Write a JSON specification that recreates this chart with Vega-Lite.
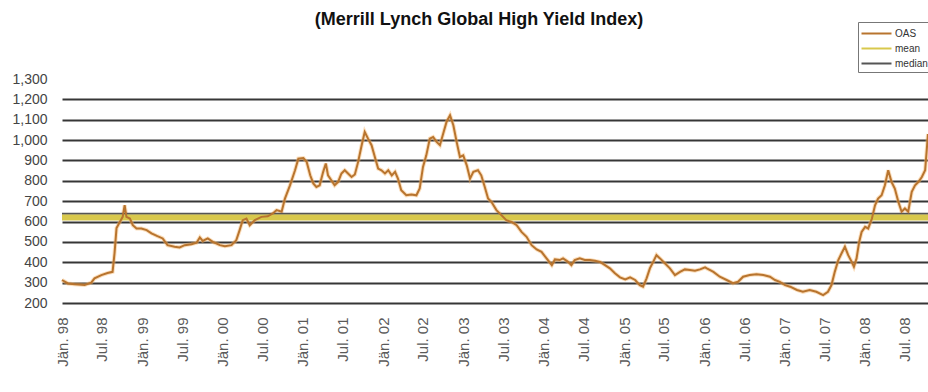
{
  "$schema": "https://vega.github.io/schema/vega-lite/v6.json",
  "width": 866,
  "height": 224,
  "autosize": {"type": "none"},
  "padding": {"left": 62, "top": 79, "right": 0, "bottom": 89},
  "background": "white",
  "config": {
    "view": {"stroke": null},
    "font": "Liberation Sans",
    "axisY": {
      "title": null, "domain": false, "ticks": false, "grid": true,
      "gridColor": "#363636", "gridWidth": 2,
      "labelPadding": 15, "labelFontSize": 14, "labelColor": "#444444",
      "labelFont": "Liberation Sans", "labelFlush": false, "labelOverlap": false
    }
  },
  "title": {
    "text": "(Merrill Lynch Global High Yield Index)",
    "font": "Liberation Sans",
    "fontSize": 18,
    "fontWeight": "bold",
    "color": "#111111",
    "anchor": "middle",
    "dx": -16,
    "offset": -7
  },
  "datasets": {
    "stats": [
      {"stat": "median", "value": 638},
      {"stat": "mean", "value": 620}
    ],
    "oas": [
      {"date": "1998-01-01", "oas": 313}, {"date": "1998-01-28", "oas": 296}, {"date": "1998-02-27", "oas": 292},
      {"date": "1998-04-14", "oas": 288}, {"date": "1998-05-14", "oas": 300}, {"date": "1998-05-29", "oas": 321},
      {"date": "1998-06-29", "oas": 337}, {"date": "1998-07-27", "oas": 347}, {"date": "1998-08-19", "oas": 353},
      {"date": "1998-08-28", "oas": 445}, {"date": "1998-09-06", "oas": 568}, {"date": "1998-09-21", "oas": 598},
      {"date": "1998-10-04", "oas": 623}, {"date": "1998-10-13", "oas": 680}, {"date": "1998-10-21", "oas": 623},
      {"date": "1998-11-06", "oas": 615}, {"date": "1998-11-19", "oas": 582}, {"date": "1998-12-06", "oas": 566},
      {"date": "1998-12-28", "oas": 566}, {"date": "1999-01-21", "oas": 558}, {"date": "1999-02-12", "oas": 542},
      {"date": "1999-03-11", "oas": 528}, {"date": "1999-04-04", "oas": 517}, {"date": "1999-04-26", "oas": 484},
      {"date": "1999-05-28", "oas": 476}, {"date": "1999-06-20", "oas": 473}, {"date": "1999-07-13", "oas": 484},
      {"date": "1999-08-13", "oas": 489}, {"date": "1999-09-05", "oas": 496}, {"date": "1999-09-20", "oas": 522},
      {"date": "1999-10-03", "oas": 505}, {"date": "1999-10-26", "oas": 517}, {"date": "1999-11-18", "oas": 500},
      {"date": "1999-12-20", "oas": 484}, {"date": "2000-01-12", "oas": 479}, {"date": "2000-02-11", "oas": 484},
      {"date": "2000-03-04", "oas": 509}, {"date": "2000-03-19", "oas": 558}, {"date": "2000-04-02", "oas": 607},
      {"date": "2000-04-19", "oas": 615}, {"date": "2000-05-04", "oas": 582}, {"date": "2000-05-27", "oas": 607},
      {"date": "2000-06-26", "oas": 623}, {"date": "2000-07-25", "oas": 626}, {"date": "2000-08-17", "oas": 640},
      {"date": "2000-09-03", "oas": 656}, {"date": "2000-09-26", "oas": 648}, {"date": "2000-10-11", "oas": 713},
      {"date": "2000-11-03", "oas": 778}, {"date": "2000-11-26", "oas": 852}, {"date": "2000-12-11", "oas": 909},
      {"date": "2001-01-03", "oas": 912}, {"date": "2001-01-18", "oas": 893}, {"date": "2001-02-03", "oas": 827},
      {"date": "2001-02-17", "oas": 787}, {"date": "2001-03-03", "oas": 770}, {"date": "2001-03-18", "oas": 778},
      {"date": "2001-04-03", "oas": 844}, {"date": "2001-04-15", "oas": 885}, {"date": "2001-04-25", "oas": 827},
      {"date": "2001-05-10", "oas": 803}, {"date": "2001-05-25", "oas": 778}, {"date": "2001-06-10", "oas": 795},
      {"date": "2001-06-25", "oas": 836}, {"date": "2001-07-10", "oas": 852}, {"date": "2001-07-25", "oas": 836},
      {"date": "2001-08-10", "oas": 819}, {"date": "2001-08-25", "oas": 831}, {"date": "2001-09-09", "oas": 893},
      {"date": "2001-09-25", "oas": 975}, {"date": "2001-10-09", "oas": 1040}, {"date": "2001-10-24", "oas": 1007},
      {"date": "2001-11-09", "oas": 975}, {"date": "2001-11-24", "oas": 917}, {"date": "2001-12-09", "oas": 860},
      {"date": "2001-12-24", "oas": 852}, {"date": "2002-01-09", "oas": 836}, {"date": "2002-01-24", "oas": 852},
      {"date": "2002-02-09", "oas": 827}, {"date": "2002-02-24", "oas": 844}, {"date": "2002-03-09", "oas": 811},
      {"date": "2002-03-24", "oas": 754}, {"date": "2002-04-16", "oas": 729}, {"date": "2002-05-09", "oas": 733},
      {"date": "2002-06-01", "oas": 729}, {"date": "2002-06-16", "oas": 762}, {"date": "2002-07-01", "oas": 868},
      {"date": "2002-07-16", "oas": 925}, {"date": "2002-08-01", "oas": 1007}, {"date": "2002-08-16", "oas": 1015},
      {"date": "2002-09-01", "oas": 991}, {"date": "2002-09-16", "oas": 975}, {"date": "2002-10-01", "oas": 1032},
      {"date": "2002-10-16", "oas": 1089}, {"date": "2002-11-01", "oas": 1122}, {"date": "2002-11-16", "oas": 1073},
      {"date": "2002-12-01", "oas": 991}, {"date": "2002-12-16", "oas": 917}, {"date": "2002-12-31", "oas": 925},
      {"date": "2003-01-16", "oas": 876}, {"date": "2003-01-31", "oas": 811}, {"date": "2003-02-15", "oas": 844},
      {"date": "2003-03-08", "oas": 852}, {"date": "2003-03-23", "oas": 827}, {"date": "2003-04-08", "oas": 770},
      {"date": "2003-04-23", "oas": 713}, {"date": "2003-05-08", "oas": 697}, {"date": "2003-05-31", "oas": 656},
      {"date": "2003-06-23", "oas": 631}, {"date": "2003-07-15", "oas": 607}, {"date": "2003-08-08", "oas": 598},
      {"date": "2003-08-31", "oas": 582}, {"date": "2003-09-22", "oas": 549}, {"date": "2003-10-15", "oas": 525},
      {"date": "2003-11-07", "oas": 484}, {"date": "2003-11-30", "oas": 463}, {"date": "2003-12-22", "oas": 451},
      {"date": "2004-01-14", "oas": 419}, {"date": "2004-02-07", "oas": 386}, {"date": "2004-02-21", "oas": 414},
      {"date": "2004-03-14", "oas": 411}, {"date": "2004-03-29", "oas": 419}, {"date": "2004-04-21", "oas": 402},
      {"date": "2004-05-06", "oas": 386}, {"date": "2004-05-21", "oas": 411}, {"date": "2004-06-13", "oas": 419},
      {"date": "2004-07-06", "oas": 411}, {"date": "2004-07-29", "oas": 411}, {"date": "2004-08-21", "oas": 407},
      {"date": "2004-09-13", "oas": 402}, {"date": "2004-10-06", "oas": 386}, {"date": "2004-10-28", "oas": 370},
      {"date": "2004-11-20", "oas": 346}, {"date": "2004-12-13", "oas": 326}, {"date": "2005-01-06", "oas": 316},
      {"date": "2005-01-28", "oas": 326}, {"date": "2005-02-20", "oas": 313}, {"date": "2005-03-13", "oas": 288},
      {"date": "2005-03-28", "oas": 280}, {"date": "2005-04-13", "oas": 321}, {"date": "2005-04-28", "oas": 370},
      {"date": "2005-05-13", "oas": 402}, {"date": "2005-05-28", "oas": 435}, {"date": "2005-06-13", "oas": 419},
      {"date": "2005-07-05", "oas": 395}, {"date": "2005-07-28", "oas": 370}, {"date": "2005-08-20", "oas": 337},
      {"date": "2005-09-12", "oas": 353}, {"date": "2005-10-04", "oas": 365}, {"date": "2005-10-27", "oas": 362},
      {"date": "2005-11-19", "oas": 358}, {"date": "2005-12-12", "oas": 365}, {"date": "2006-01-04", "oas": 375},
      {"date": "2006-01-12", "oas": 370}, {"date": "2006-02-11", "oas": 353}, {"date": "2006-03-12", "oas": 329},
      {"date": "2006-04-12", "oas": 313}, {"date": "2006-05-11", "oas": 297}, {"date": "2006-06-03", "oas": 304},
      {"date": "2006-06-26", "oas": 329}, {"date": "2006-07-26", "oas": 337}, {"date": "2006-08-26", "oas": 341},
      {"date": "2006-09-26", "oas": 337}, {"date": "2006-10-26", "oas": 329}, {"date": "2006-11-18", "oas": 313},
      {"date": "2006-12-10", "oas": 304}, {"date": "2007-01-03", "oas": 288}, {"date": "2007-01-26", "oas": 280},
      {"date": "2007-02-26", "oas": 264}, {"date": "2007-03-25", "oas": 255}, {"date": "2007-04-25", "oas": 264},
      {"date": "2007-05-25", "oas": 255}, {"date": "2007-06-25", "oas": 239}, {"date": "2007-07-17", "oas": 255},
      {"date": "2007-08-02", "oas": 288}, {"date": "2007-08-17", "oas": 353}, {"date": "2007-09-02", "oas": 411},
      {"date": "2007-09-17", "oas": 444}, {"date": "2007-10-02", "oas": 476}, {"date": "2007-10-17", "oas": 435},
      {"date": "2007-11-02", "oas": 402}, {"date": "2007-11-12", "oas": 378}, {"date": "2007-11-24", "oas": 419},
      {"date": "2007-12-06", "oas": 500}, {"date": "2007-12-17", "oas": 549}, {"date": "2008-01-02", "oas": 574},
      {"date": "2008-01-16", "oas": 566}, {"date": "2008-02-02", "oas": 615}, {"date": "2008-02-16", "oas": 680},
      {"date": "2008-03-01", "oas": 713}, {"date": "2008-03-17", "oas": 729}, {"date": "2008-04-01", "oas": 778},
      {"date": "2008-04-16", "oas": 852}, {"date": "2008-05-01", "oas": 795}, {"date": "2008-05-16", "oas": 762},
      {"date": "2008-06-01", "oas": 697}, {"date": "2008-06-16", "oas": 648}, {"date": "2008-07-01", "oas": 664},
      {"date": "2008-07-16", "oas": 648}, {"date": "2008-08-01", "oas": 746}, {"date": "2008-08-16", "oas": 778},
      {"date": "2008-09-01", "oas": 795}, {"date": "2008-09-16", "oas": 819}, {"date": "2008-10-01", "oas": 852},
      {"date": "2008-10-10", "oas": 975}, {"date": "2008-10-14", "oas": 1030}
    ]
  },
  "layer": [
    {
      "data": {"name": "oas"},
      "mark": {"type": "line", "stroke": "#f6b56a", "strokeWidth": 4, "opacity": 0.45},
      "encoding": {
        "x": {
          "field": "date", "type": "temporal",
          "scale": {"type": "utc", "domain": [{"year": 1998, "month": 1, "date": 1, "utc": true}, {"year": 2008, "month": 10, "date": 14, "utc": true}]},
          "axis": {
            "title": null, "grid": false, "domain": false, "ticks": false,
            "labelAngle": 270, "labelPadding": 14, "labelFontSize": 15, "labelColor": "#5a5a5a",
            "labelFont": "Liberation Sans", "labelOverlap": false, "labelFlush": false,
            "values": [
              {"year": 1998, "month": 1, "date": 1, "utc": true}, {"year": 1998, "month": 7, "date": 1, "utc": true},
              {"year": 1999, "month": 1, "date": 1, "utc": true}, {"year": 1999, "month": 7, "date": 1, "utc": true},
              {"year": 2000, "month": 1, "date": 1, "utc": true}, {"year": 2000, "month": 7, "date": 1, "utc": true},
              {"year": 2001, "month": 1, "date": 1, "utc": true}, {"year": 2001, "month": 7, "date": 1, "utc": true},
              {"year": 2002, "month": 1, "date": 1, "utc": true}, {"year": 2002, "month": 7, "date": 1, "utc": true},
              {"year": 2003, "month": 1, "date": 1, "utc": true}, {"year": 2003, "month": 7, "date": 1, "utc": true},
              {"year": 2004, "month": 1, "date": 1, "utc": true}, {"year": 2004, "month": 7, "date": 1, "utc": true},
              {"year": 2005, "month": 1, "date": 1, "utc": true}, {"year": 2005, "month": 7, "date": 1, "utc": true},
              {"year": 2006, "month": 1, "date": 1, "utc": true}, {"year": 2006, "month": 7, "date": 1, "utc": true},
              {"year": 2007, "month": 1, "date": 1, "utc": true}, {"year": 2007, "month": 7, "date": 1, "utc": true},
              {"year": 2008, "month": 1, "date": 1, "utc": true}, {"year": 2008, "month": 7, "date": 1, "utc": true}
            ],
            "labelExpr": "(utcFormat(datum.value, '%m') == '01' ? 'Jän. ' : 'Jul. ') + utcFormat(datum.value, '%y')"
          }
        },
        "y": {
          "field": "oas", "type": "quantitative",
          "scale": {"domain": [200, 1300], "nice": false, "zero": false},
          "axis": {
            "values": [200, 300, 400, 500, 600, 700, 800, 900, 1000, 1100, 1200, 1300],
            "format": ",.0f",
            "gridOpacity": {"condition": {"test": "datum.value >= 1300", "value": 0}, "value": 1}
          }
        }
      }
    },
    {
      "data": {"name": "stats"},
      "transform": [{"filter": "datum.stat == 'median'"}],
      "mark": {"type": "rule", "strokeWidth": 2},
      "encoding": {
        "y": {
          "field": "value", "type": "quantitative",
          "axis": {
            "values": [200, 300, 400, 500, 600, 700, 800, 900, 1000, 1100, 1200, 1300],
            "format": ",.0f",
            "gridOpacity": {"condition": {"test": "datum.value >= 1300", "value": 0}, "value": 1}
          }
        },
        "color": {"field": "stat", "type": "nominal", "title": null, "legend": {"title": null}}
      }
    },
    {
      "data": {"name": "stats"},
      "transform": [{"filter": "datum.stat == 'mean'"}],
      "mark": {"type": "rule", "strokeWidth": 6},
      "encoding": {
        "y": {
          "field": "value", "type": "quantitative",
          "axis": {
            "values": [200, 300, 400, 500, 600, 700, 800, 900, 1000, 1100, 1200, 1300],
            "format": ",.0f",
            "gridOpacity": {"condition": {"test": "datum.value >= 1300", "value": 0}, "value": 1}
          }
        },
        "color": {"field": "stat", "type": "nominal", "title": null, "legend": {"title": null}}
      }
    },
    {
      "data": {"name": "oas"},
      "mark": {"type": "line", "strokeWidth": 2},
      "encoding": {
        "x": {"field": "date", "type": "temporal"},
        "y": {
          "field": "oas", "type": "quantitative",
          "axis": {
            "values": [200, 300, 400, 500, 600, 700, 800, 900, 1000, 1100, 1200, 1300],
            "format": ",.0f",
            "gridOpacity": {"condition": {"test": "datum.value >= 1300", "value": 0}, "value": 1}
          }
        },
        "color": {
          "datum": "OAS", "type": "nominal", "title": null,
          "scale": {"domain": ["OAS", "mean", "median"], "range": ["#b8742e", "#d8c84c", "#555555"]},
          "legend": {
            "title": null, "orient": "none", "legendX": 796, "legendY": -57,
            "symbolType": "M-2,0H2", "symbolSize": 225, "symbolStrokeWidth": 2, "symbolOffset": 7,
            "symbolFillColor": "transparent",
            "labelFontSize": 10, "labelColor": "#333333", "labelFont": "Liberation Sans",
            "strokeColor": "#777777", "fillColor": "white", "padding": 3, "rowPadding": 1, "labelOffset": 10
          }
        }
      }
    }
  ]
}
